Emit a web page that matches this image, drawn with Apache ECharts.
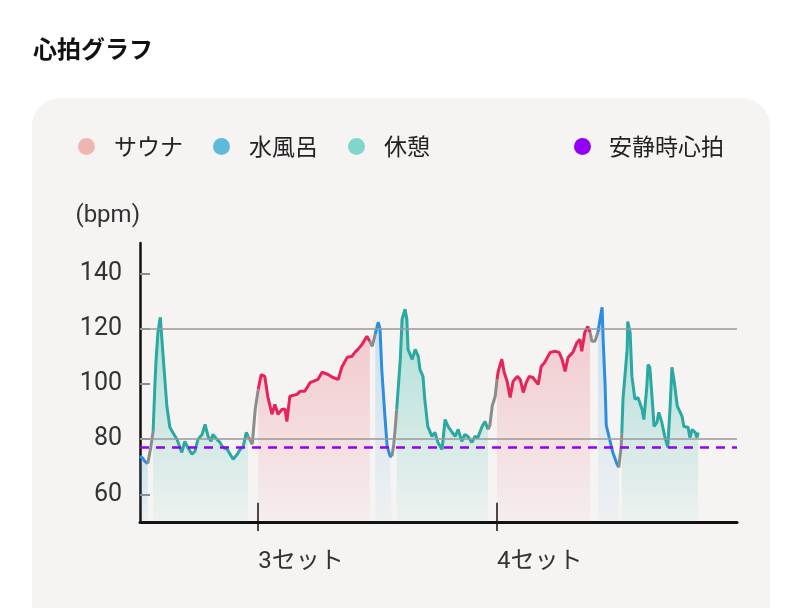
<!DOCTYPE html>
<html><head><meta charset="utf-8">
<script src="https://cdn.jsdelivr.net/npm/echarts@6/dist/echarts.min.js"></script>
<style>html,body{margin:0;padding:0;background:#fff;}#c{width:800px;height:608px;}</style>
</head><body><div id="c"></div>
<script>
// time (arbitrary units, 0..100) , heart rate (bpm)
const water1 = [[0,73.8],[0.5,73],[0.8,72],[1.3,71.2]];
const trans1 = [[1.3,71.2],[1.5,71.6],[1.8,77],[2.2,83]];
const rest1 = [[2.2,83],[2.5,99.8],[2.7,108.9],[3.0,118.6],[3.4,124.1],[3.7,124.1],[4.0,106.3],[4.5,91.9],[5.0,84.3],[5.5,82.4],[6.2,79.9],[6.7,77],[7.0,75.2],[7.5,79.2],[8.0,77],[8.7,74.5],[9.2,75.6],[9.7,79.9],[10.4,81.7],[10.9,85.3],[11.4,81],[11.9,79.2],[12.2,81.7],[12.9,79.9],[13.4,78.8],[13.9,77],[14.6,76.3],[15.1,74.5],[15.6,72.7],[16.3,74.5],[16.8,76.3],[17.3,77.4],[17.8,82.4],[18.1,81]];
const trans2 = [[18.1,81],[18.8,78.1],[19.3,90.8],[19.8,98]];
const sauna1 = [[19.8,98],[20.3,103.4],[20.9,102.7],[21.4,95.5],[22.1,89],[22.6,92.6],[23.1,89],[23.8,90.8],[24.3,90.8],[24.6,86.4],[25.1,95.5],[26.3,96.2],[26.8,97.3],[27.6,97.3],[28.5,100.5],[29.0,100.9],[29.8,101.6],[30.5,104.2],[31.5,103.4],[32.3,102.3],[33.2,101.6],[33.8,106],[34.7,109.6],[35.5,110],[36.0,111.4],[36.5,112.5],[37.2,114.3],[38.0,117.2],[38.5,115.4]];
const trans3 = [[38.5,115.4],[38.9,113.6],[39.4,118]];
const water2 = [[39.4,118],[39.9,122.3],[40.2,120],[40.5,105.2],[41.0,89],[41.4,77.4],[41.9,73.8],[42.2,73.8]];
const trans4 = [[42.2,73.8],[42.5,78],[42.7,82.4],[43.0,90.8]];
const rest2 = [[43.0,90.8],[43.6,108.9],[43.9,123.4],[44.4,127],[44.7,123.4],[44.9,112.5],[45.6,108.9],[46.1,112.5],[46.6,110],[46.9,105.2],[47.4,102.7],[47.7,94.4],[48.2,84.6],[48.9,81],[49.4,82.4],[49.9,78.8],[50.6,76.3],[51.1,87.1],[51.6,84.6],[52.3,82.4],[52.8,81],[53.3,83.5],[53.9,79.2],[54.4,81.7],[54.9,81],[55.6,78.8],[56.1,81],[56.6,80.6],[57.3,84.6],[57.8,86.4],[58.3,83.5]];
const trans5 = [[58.3,83.5],[58.6,85],[59.0,92],[59.5,95.5],[59.8,101.6]];
const sauna2 = [[59.8,101.6],[60.0,104.5],[60.6,108.9],[61.0,104.2],[61.5,100.9],[62.0,95.1],[62.5,100.9],[63.2,102.7],[63.7,101.6],[64.2,96.9],[64.7,100.5],[65.2,102.7],[65.8,102.3],[66.7,99.8],[67.2,106.3],[67.8,107.8],[68.7,111.4],[69.5,111.8],[70.2,111.4],[70.7,108.9],[71.2,104.5],[71.7,109.6],[72.5,111.4],[73.2,115],[73.7,116.1],[74.0,111.8],[74.5,118.6],[75.0,120.8],[75.4,118.6]];
const trans6 = [[75.4,118.6],[75.7,115.4],[76.2,115.4],[76.7,118.6]];
const water3 = [[76.7,118.6],[77.1,124],[77.4,127.7],[77.6,115],[77.9,100],[78.1,85],[78.6,80.5],[79.2,75.2],[79.9,71],[80.2,69.8]];
const trans7 = [[80.2,69.8],[80.6,77.4],[80.7,82]];
const rest3 = [[80.7,82],[80.9,94.4],[81.6,112.5],[81.7,122.6],[82.1,118.6],[82.4,102.7],[82.9,94.4],[83.4,95.1],[84.1,90.8],[84.4,87.1],[84.9,99.1],[85.1,107],[85.4,106],[85.8,94.4],[86.1,84.6],[86.6,86.1],[86.9,89.7],[87.4,86.1],[87.9,81],[88.4,77],[88.8,91.9],[89.1,106],[89.5,100.5],[90.0,91.9],[90.5,89.7],[90.8,88.2],[91.1,84.6],[91.8,84.3],[92.1,80.6],[92.5,83.5],[93.0,82.4],[93.3,80.6],[93.5,82.4]];

const restingHR = 77;
const gridLines = [80, 120];
const yTicks = [60, 80, 100, 120, 140];
const setTicks = [19.8, 59.8];
const setLabels = ['3セット', '4セット'];

const FONT = "Roboto, 'Noto Sans CJK JP', sans-serif";
const JP = "'Noto Sans CJK JP', sans-serif";

const phase = {
  'サウナ': {line:'#e6245a', legend:'#efb5b2', fill:[232,112,128], top:0.45},
  '水風呂': {line:'#2a8fe0', legend:'#5cbbdd', fill:[90,170,220], top:0.38},
  '休憩':   {line:'#2aa8a2', legend:'#80d6cb', fill:[60,188,172], top:0.55}
};
function seg(name, data){
  const p = phase[name];
  const c = p.fill;
  return {
    type:'line', name:name, data:data, showSymbol:false, symbol:'none', smooth:false,
    z:3, silent:true,
    itemStyle:{color:p.legend},
    lineStyle:{color:p.line, width:3},
    areaStyle:{origin:'start', color:new echarts.graphic.LinearGradient(0,0,0,1,[
      {offset:0, color:`rgba(${c[0]},${c[1]},${c[2]},${p.top})`},
      {offset:1, color:`rgba(${c[0]},${c[1]},${c[2]},0.07)`}
    ])}
  };
}
function trans(data){
  return {type:'line', name:'移行', data:data, showSymbol:false, symbol:'none', z:3, silent:true,
    lineStyle:{color:'#8c8c8c', width:3}};
}

const series = [
  seg('水風呂', water1), trans(trans1), seg('休憩', rest1), trans(trans2),
  seg('サウナ', sauna1), trans(trans3), seg('水風呂', water2), trans(trans4),
  seg('休憩', rest2), trans(trans5), seg('サウナ', sauna2), trans(trans6),
  seg('水風呂', water3), trans(trans7), seg('休憩', rest3),
  {type:'line', name:'grid', data:[], z:1, silent:true,
    markLine:{silent:true, symbol:'none', label:{show:false},
      lineStyle:{color:'#9a9a9a', width:1.5, type:'solid'},
      data: gridLines.map(v=>({yAxis:v}))}},
  {type:'line', name:'ticks', data:[], z:5, silent:true,
    markLine:{silent:true, symbol:'none', label:{show:false},
      lineStyle:{color:'#111', width:1.5, type:'solid'},
      data: setTicks.map(t=>[{coord:[t,50]},{coord:[t,57]}])}},
  {type:'line', name:'安静時心拍', data:[], z:6, silent:true,
    itemStyle:{color:'#9400f5'}, lineStyle:{color:'#9400f5'},
    markLine:{silent:true, symbol:'none', label:{show:false},
      lineStyle:{color:'#9400f0', width:2.5, type:[9,7]},
      data:[{yAxis:restingHR}]}}
];

const chart = echarts.init(document.getElementById('c'), null, {renderer:'canvas'});
chart.setOption({
  animation:false,
  backgroundColor:'#ffffff',
  textStyle:{fontFamily:FONT},
  title:{text:'心拍グラフ', left:28, top:32, padding:5,
    textStyle:{fontSize:24, fontWeight:'bold', color:'#111', fontFamily:JP}},
  graphic:{elements:[
    {type:'rect', z:-10, silent:true, shape:{x:32, y:98, width:738, height:560, r:28}, style:{fill:'#f6f4f3'}}
  ]},
  legend:[
    {left:78, top:135, padding:0, icon:'circle', itemWidth:17, itemHeight:17, itemGap:30, selectedMode:false,
      textStyle:{fontSize:23, color:'#222', fontFamily:JP, padding:[0,0,0,14]},
      data:[{name:'サウナ', itemStyle:{color:'#efb5b2', borderWidth:0}},
            {name:'水風呂', itemStyle:{color:'#5cbbdd', borderWidth:0}},
            {name:'休憩', itemStyle:{color:'#80d6cb', borderWidth:0}}]},
    {left:574, top:135, padding:0, icon:'circle', itemWidth:17, itemHeight:17, selectedMode:false,
      textStyle:{fontSize:23, color:'#222', fontFamily:JP, padding:[0,0,0,13]},
      data:[{name:'安静時心拍', itemStyle:{color:'#9400f5', borderWidth:0}}]}
  ],
  grid:{left:140, right:63, top:243, bottom:86, containLabel:false},
  xAxis:{type:'value', min:0, max:100,
    axisLine:{show:true, lineStyle:{color:'#111', width:3}},
    axisTick:{show:true, inside:false, length:9, customValues:setTicks, lineStyle:{color:'#111', width:1.5}},
    axisLabel:{show:true, customValues:setTicks, margin:28, align:'left', fontSize:24, color:'#333',
      fontFamily:FONT, formatter:(v)=>{const i=setTicks.indexOf(v); return i>=0?setLabels[i]:'';}},
    splitLine:{show:false}},
  yAxis:{type:'value', min:50, max:151,
    name:'(bpm)', nameLocation:'end', nameGap:27,
    nameTextStyle:{fontSize:24, color:'#333', align:'right', verticalAlign:'middle', fontFamily:FONT},
    axisLine:{show:true, lineStyle:{color:'#111', width:2.5}},
    axisTick:{show:true, inside:true, length:10, customValues:yTicks, lineStyle:{color:'#8c8c8c', width:2}},
    axisLabel:{show:true, customValues:yTicks, margin:18, fontSize:25, color:'#333', fontFamily:FONT},
    splitLine:{show:false}},
  series:series
});
</script></body></html>
